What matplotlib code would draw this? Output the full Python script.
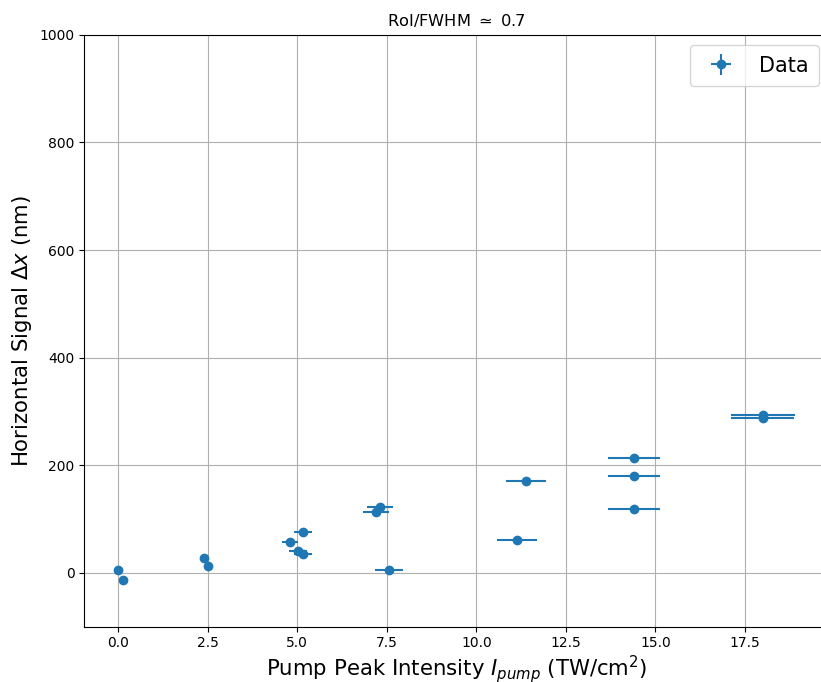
import numpy as np
import matplotlib
matplotlib.use("Agg")
import matplotlib.pyplot as plt

# pump intensity (TW/cm^2), its error, signal (nm), its error
intensity = [0.0, 0.14, 2.4, 2.51, 4.8, 5.16, 5.02, 5.16, 7.2, 7.31, 7.56,
             11.13, 11.39, 14.4, 14.4, 14.4, 18.0, 18.0]
intensity_err = [0.0, 0.0, 0.0, 0.0, 0.22, 0.25, 0.24, 0.25, 0.36, 0.36, 0.38,
                 0.56, 0.56, 0.72, 0.72, 0.72, 0.9, 0.88]
signal = [6, -13, 28, 13, 58, 76, 41, 35, 113, 123, 6,
          61, 171, 214, 180, 119, 294, 288]
signal_err = [2, 2, 2, 2, 2, 2, 2, 2, 2, 2, 2, 4, 2, 2, 2, 2, 2, 2]

fig = plt.figure(figsize=(8.21, 6.82), dpi=100)
# the right edge of the axes runs just past the figure, as in the original crop
ax = fig.add_axes([0.1027, 0.081, 0.907, 0.868])

ax.errorbar(intensity, signal, xerr=intensity_err, yerr=signal_err,
            fmt='o', color='tab:blue', label='Data')

ax.set_ylim(-100, 1000)
ax.grid(True)
ax.set_title(r'RoI/FWHM $\simeq$ 0.7', fontsize=11.7)
ax.set_xlabel(r'Pump Peak Intensity $I_{pump}$ (TW/cm$^2$)', fontsize=15.3,
              labelpad=1.5)
ax.set_ylabel(r'Horizontal Signal $\Delta x$ (nm)', fontsize=15.3)
ax.legend(fontsize=15, loc='upper right', borderpad=0.5)

fig.savefig("out.png")
